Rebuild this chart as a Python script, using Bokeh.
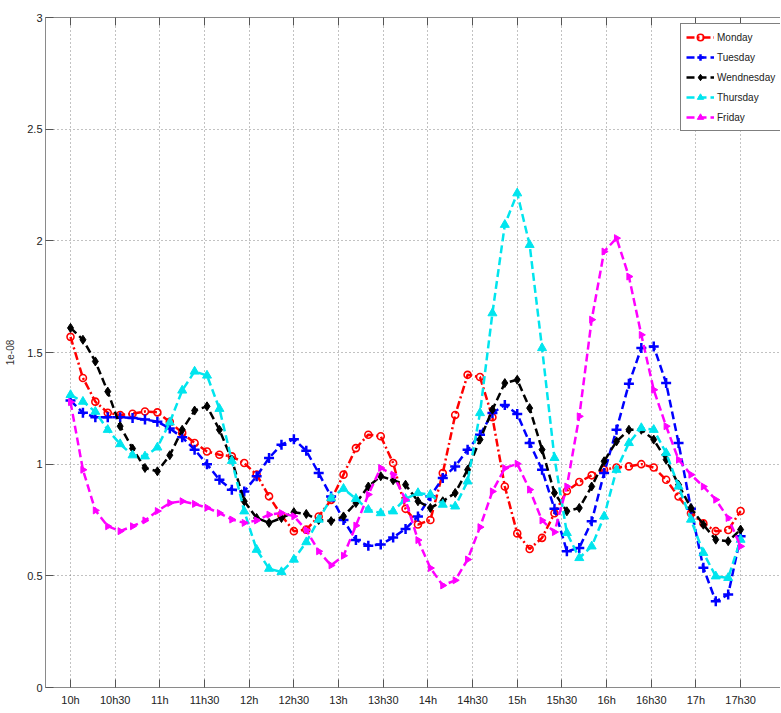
import math
from bokeh.plotting import figure
from bokeh.models import Range1d, FixedTicker, LinearAxis, Legend, LegendItem
from bokeh.embed import file_html
from bokeh.resources import INLINE

# ---------------- data ----------------
tick_labels = ["10h", "10h30", "11h", "11h30", "12h", "12h30", "13h", "13h30",
               "14h", "14h30", "15h", "15h30", "16h", "16h30", "17h", "17h30"]
tick_minutes = [30 * k for k in range(len(tick_labels))]

n_samples = 55
minutes = [i * 450 / (n_samples - 1) for i in range(n_samples)]  # sample times (minutes after 10h)

monday = [1.57, 1.386, 1.28, 1.23, 1.22, 1.226, 1.236, 1.232, 1.19, 1.14,
          1.095, 1.057, 1.042, 1.035, 1.005, 0.953, 0.856, 0.77, 0.70, 0.707,
          0.766, 0.84, 0.953, 1.072, 1.132, 1.125, 1.005, 0.80, 0.73, 0.75,
          0.96, 1.22, 1.40, 1.39, 1.21, 0.90, 0.69, 0.62, 0.67, 0.78,
          0.88, 0.92, 0.95, 0.975, 0.985, 0.99, 1.0, 0.985, 0.93, 0.855,
          0.78, 0.735, 0.70, 0.705, 0.79]

tuesday = [1.285, 1.23, 1.21, 1.21, 1.21, 1.207, 1.20, 1.19, 1.16, 1.12,
           1.065, 1.0, 0.93, 0.886, 0.878, 0.946, 1.028, 1.087, 1.112, 1.06,
           0.96, 0.855, 0.75, 0.66, 0.635, 0.64, 0.672, 0.71, 0.766, 0.856,
           0.938, 0.99, 1.065, 1.132, 1.229, 1.265, 1.225, 1.095, 0.975, 0.80,
           0.61, 0.625, 0.744, 0.96, 1.154, 1.36, 1.52, 1.527, 1.363, 1.095,
           0.80, 0.536, 0.386, 0.416, 0.677]

wednesday = [1.61, 1.557, 1.46, 1.325, 1.17, 1.07, 0.983, 0.968, 1.04, 1.154,
             1.24, 1.259, 1.154, 1.02, 0.834, 0.759, 0.737, 0.759, 0.785, 0.777,
             0.75, 0.745, 0.766, 0.826, 0.90, 0.946, 0.928, 0.908, 0.834, 0.804,
             0.834, 0.871, 0.975, 1.11, 1.244, 1.363, 1.378, 1.251, 1.065, 0.871,
             0.789, 0.804, 0.90, 1.013, 1.102, 1.154, 1.154, 1.11, 1.02, 0.908,
             0.804, 0.729, 0.662, 0.655, 0.707]

thursday = [1.31, 1.28, 1.235, 1.154, 1.09, 1.04, 1.035, 1.075, 1.187, 1.33,
            1.415, 1.397, 1.248, 1.015, 0.789, 0.617, 0.532, 0.517, 0.573, 0.651,
            0.752, 0.848, 0.89, 0.845, 0.796, 0.781, 0.789, 0.845, 0.871, 0.864,
            0.819, 0.811, 0.923, 1.229, 1.676, 2.072, 2.213, 1.982, 1.52, 1.028,
            0.692, 0.58, 0.632, 0.766, 0.975, 1.095, 1.162, 1.154, 1.05, 0.90,
            0.752, 0.603, 0.498, 0.491, 0.662]

friday = [1.278, 0.975, 0.793, 0.722, 0.70, 0.722, 0.748, 0.79, 0.826, 0.834,
          0.822, 0.805, 0.781, 0.752, 0.737, 0.748, 0.774, 0.781, 0.767, 0.705,
          0.61, 0.547, 0.59, 0.725, 0.864, 0.983, 0.953, 0.84, 0.66, 0.535,
          0.457, 0.48, 0.573, 0.718, 0.878, 0.982, 1.002, 0.886, 0.748, 0.696,
          0.90, 1.214, 1.647, 1.952, 2.012, 1.84, 1.579, 1.333, 1.17, 1.02,
          0.953, 0.90, 0.841, 0.759, 0.632]

y_ticks = [0, 0.5, 1, 1.5, 2, 2.5, 3]

# ---------------- figure ----------------
FONT = "Liberation Sans"
AXIS_COL = "#8a8a8a"
TICK_COL = "#555555"

p = figure(width=780, height=708, output_backend="svg", toolbar_location=None,
           x_range=Range1d(-16.8, 476.8), y_range=Range1d(0, 3),
           min_border_left=45, min_border_right=0, min_border_top=17, min_border_bottom=0)
p.outline_line_color = None
p.background_fill_color = "white"
p.border_fill_color = "white"

p.xaxis.ticker = FixedTicker(ticks=tick_minutes)
p.xaxis.major_label_overrides = {m: lab for m, lab in zip(tick_minutes, tick_labels)}
p.yaxis.ticker = FixedTicker(ticks=y_ticks)
p.yaxis.major_label_overrides = {0: "0", 1: "1", 2: "2", 3: "3"}
p.yaxis.axis_label = "1e-08"

for ax in (p.xaxis[0], p.yaxis[0]):
    ax.axis_line_color = AXIS_COL
    ax.major_tick_line_color = TICK_COL
    ax.major_tick_in = 8
    ax.major_tick_out = 0
    ax.minor_tick_line_color = None
    ax.major_label_text_font = FONT
    ax.major_label_text_font_size = "11px"
    ax.major_label_text_color = "#222222"
    ax.major_label_standoff = 3
p.xaxis.major_label_standoff = 6

p.yaxis.axis_label_text_font = FONT
p.yaxis.axis_label_text_font_size = "10px"
p.yaxis.axis_label_text_font_style = "normal"
p.yaxis.axis_label_text_color = "#333333"
p.yaxis.axis_label_standoff = 10

top_axis = LinearAxis(ticker=FixedTicker(ticks=tick_minutes),
                      major_label_overrides={m: "" for m in tick_minutes},
                      major_label_text_font_size="1px", major_label_standoff=0,
                      axis_line_color=AXIS_COL, major_tick_line_color=TICK_COL,
                      major_tick_in=8, major_tick_out=0, minor_tick_line_color=None)
p.add_layout(top_axis, "above")

p.grid.grid_line_color = "#666666"
p.grid.grid_line_dash = "1 3"
p.grid.grid_line_width = 1
p.grid.grid_line_alpha = 0.8
p.xgrid.ticker = FixedTicker(ticks=tick_minutes)
p.ygrid.ticker = FixedTicker(ticks=y_ticks)

series = [
    ("Monday", monday, "#ff0000", "8 3 2 3", dict(marker="circle", size=7, fill_color=None, line_width=1.6)),
    ("Tuesday", tuesday, "#0000ff", "8 4", dict(marker="cross", size=10, line_width=2.5)),
    ("Wendnesday", wednesday, "#000000", "8 4", dict(marker="diamond", size=9, line_width=1)),
    ("Thursday", thursday, "#00e5ee", "8 4", dict(marker="triangle", size=9, line_width=1)),
    ("Friday", friday, "#ff00ff", "8 4", dict(marker="triangle", size=7, line_width=1, angle=-math.pi / 2)),
]

items = []
for name, vals, col, dash, mk in series:
    lr = p.line(minutes, vals, line_color=col, line_width=2.5, line_dash=dash)
    kw = dict(mk)
    fill = kw.pop("fill_color", col)
    sr = p.scatter(minutes, vals, line_color=col, fill_color=fill, **kw)
    items.append(LegendItem(label=name, renderers=[lr, sr]))

legend = Legend(items=items, location=(635, 556))
legend.label_text_font = FONT
legend.label_text_font_size = "10px"
legend.label_text_color = "#222222"
legend.glyph_width = 28
legend.glyph_height = 16
legend.label_height = 16
legend.spacing = 4
legend.padding = 5
legend.margin = 0
legend.label_standoff = 3
legend.border_line_color = "black"
legend.border_line_width = 1
legend.background_fill_color = "white"
legend.background_fill_alpha = 1
p.add_layout(legend)

open("out.html", "w").write(file_html(p, INLINE))
